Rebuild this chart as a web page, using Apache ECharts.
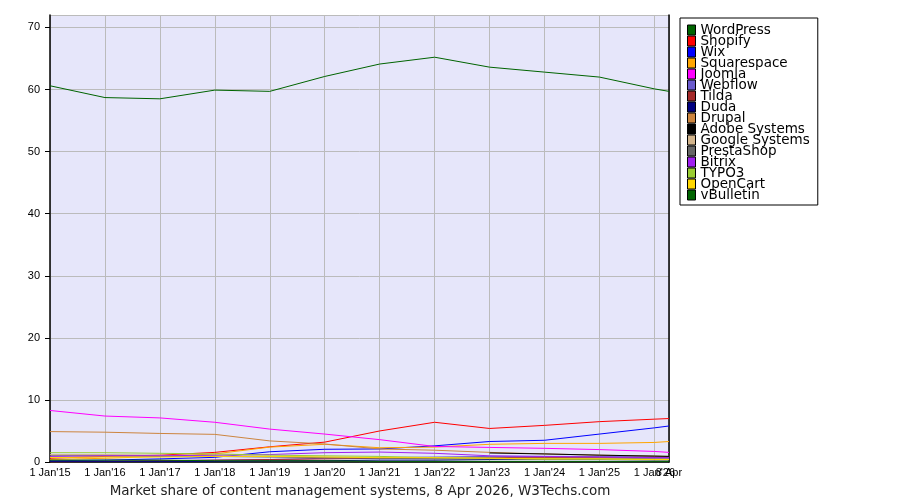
<!DOCTYPE html>
<html><head><meta charset="utf-8">
<script src="https://cdn.jsdelivr.net/npm/echarts@6/dist/echarts.min.js"></script>
<style>html,body{margin:0;padding:0;background:#fff}#c{width:900px;height:500px}</style>
</head><body><div id="c"></div>
<script>
// Sample dates (Jan 1 of each year, plus the survey date)
const dates = ['2015-01-01','2016-01-01','2017-01-01','2018-01-01','2019-01-01','2020-01-01','2021-01-01','2022-01-01','2023-01-01','2024-01-01','2025-01-01','2026-01-01','2026-04-08'];
const seriesNames = ['WordPress','Shopify','Wix','Squarespace','Joomla','Webflow','Tilda','Duda','Drupal','Adobe Systems','Google Systems','PrestaShop','Bitrix','TYPO3','OpenCart','vBulletin'];
const seriesColors = ['#006400','#ff0000','#0000ff','#ffa500','#ff00ff','#6a5acd','#a52a2a','#000080','#cd853f','#000000','#d2b48c','#666666','#a020f0','#9acd32','#ffd700','#006400'];
const wordpress   = [60.6,58.7,58.5,59.9,59.7,62.1,64.1,65.2,63.6,62.8,62.0,60.1,59.7];
const shopify     = [0.6,0.9,1.1,1.55,2.45,3.2,5.0,6.4,5.4,5.9,6.5,6.9,7.0];
const wix         = [0.2,0.3,0.5,0.75,1.65,2.05,2.1,2.6,3.3,3.5,4.5,5.5,5.8];
const squarespace = [0.4,0.6,0.9,1.3,2.4,2.85,2.3,2.4,2.85,3.0,3.0,3.15,3.3];
const joomla      = [8.3,7.4,7.1,6.4,5.3,4.5,3.6,2.5,2.35,2.2,2.0,1.7,1.55];
const webflow     = [0.1,0.1,0.2,0.3,0.4,0.6,0.7,0.8,0.9,0.9,0.9,0.9,0.9];
const tilda       = [0.0,0.1,0.2,0.3,0.4,0.5,0.6,0.6,0.7,0.7,0.7,0.7,0.7];
const duda        = [0.1,0.1,0.1,0.1,0.2,0.2,0.3,0.3,0.4,0.5,0.5,0.6,0.6];
const drupal      = [4.9,4.8,4.6,4.45,3.4,2.9,2.1,1.9,1.55,1.3,1.1,0.95,0.9];
const adobe       = [null,null,null,null,null,null,null,null,1.45,1.3,1.1,0.95,0.9];
const google      = [1.2,1.2,1.1,1.0,0.9,0.8,0.7,0.6,0.6,0.5,0.5,0.5,0.5];
const prestashop  = [1.0,1.0,0.9,0.9,0.8,0.7,0.6,0.5,0.5,0.4,0.4,0.3,0.3];
const bitrix      = [0.9,1.0,1.0,1.1,1.2,1.5,1.6,1.4,1.0,0.9,0.8,0.7,0.7];
const typo3       = [1.5,1.5,1.4,1.3,1.1,1.0,0.9,0.7,0.6,0.5,0.5,0.4,0.4];
const opencart    = [0.7,0.8,0.8,0.9,0.9,0.8,0.7,0.7,0.6,0.5,0.5,0.4,0.4];
const vbulletin   = [0.3,0.3,0.3,0.2,0.2,0.2,0.1,0.1,0.1,0.1,0.1,0.1,0.1];
const allValues = [wordpress,shopify,wix,squarespace,joomla,webflow,tilda,duda,drupal,adobe,google,prestashop,bitrix,typo3,opencart,vbulletin];
const titleText = 'Market share of content management systems, 8 Apr 2026, W3Techs.com';
const lastLabel = '8 Apr';

function fracYear(s){
  const d = new Date(s + 'T00:00:00Z');
  const y = d.getUTCFullYear();
  const start = Date.UTC(y,0,1), end = Date.UTC(y+1,0,1);
  return y + (d.getTime()-start)/(end-start);
}
const xs = dates.map(fracYear);
const xMax = xs[xs.length-1];
const isMax = v => Math.abs(v-xMax) < 1e-6;

const series = seriesNames.map((n,i)=>({
  name:n, type:'line', symbol:'none', color:seriesColors[i],
  lineStyle:{width:1,color:seriesColors[i]},
  data: xs.map((x,j)=>[x, allValues[i][j]]),
  connectNulls:false, animation:false
}));

const labelFont = {fontFamily:'Liberation Sans',fontSize:11,color:'#000'};

const chart = echarts.init(document.getElementById('c'));
chart.setOption({
  animation:false,
  backgroundColor:'#fff',
  title:{text:titleText,left:355,top:479,textAlign:'center',
    textStyle:{fontFamily:'DejaVu Sans',fontSize:13.5,fontWeight:'normal',color:'#222'}},
  legend:{orient:'vertical',left:680,top:18,padding:[5,8,3,7],itemGap:-3,
    itemWidth:8,itemHeight:10,icon:'rect',borderColor:'#000',borderWidth:1,
    itemStyle:{borderColor:'#000',borderWidth:1},
    textStyle:{fontFamily:'DejaVu Sans',fontSize:13.5,color:'#000',lineHeight:14},
    data:seriesNames},
  grid:{left:50,right:231,top:15,bottom:38,show:true,backgroundColor:'#e6e6fa',borderWidth:0},
  xAxis:[{type:'value',min:2015,max:xMax,interval:1,
    axisLine:{show:true,lineStyle:{color:'#000',width:1.5}},
    axisTick:{show:false},
    splitLine:{show:true,lineStyle:{color:'#bbbbbb',width:1}},
    axisLabel:Object.assign({margin:5,showMaxLabel:false,showMinLabel:true,
      formatter:function(v){ if (isMax(v)) return ''; return "1 Jan'"+String(Math.round(v)%100).padStart(2,'0'); }},labelFont)},
   {type:'value',min:2015,max:xMax,interval:1,position:'bottom',
    axisLine:{show:false},axisTick:{show:false},splitLine:{show:false},
    axisLabel:Object.assign({margin:5,showMaxLabel:true,
      formatter:function(v){ return isMax(v) ? lastLabel : ''; }},labelFont)}],
  yAxis:[{type:'value',min:0,max:72,interval:10,position:'left',
    axisLine:{show:true,lineStyle:{color:'#000',width:1.5}},
    axisTick:{show:true,length:5,lineStyle:{color:'#000'}},
    splitLine:{show:true,lineStyle:{color:'#bbbbbb',width:1}},
    axisLabel:Object.assign({margin:10,showMaxLabel:false},labelFont)},
   {type:'value',min:0,max:72,interval:10,position:'right',
    axisLine:{show:true,lineStyle:{color:'#000',width:1.5}},
    axisTick:{show:false},axisLabel:{show:false},splitLine:{show:false}}],
  series: series
});
</script></body></html>
